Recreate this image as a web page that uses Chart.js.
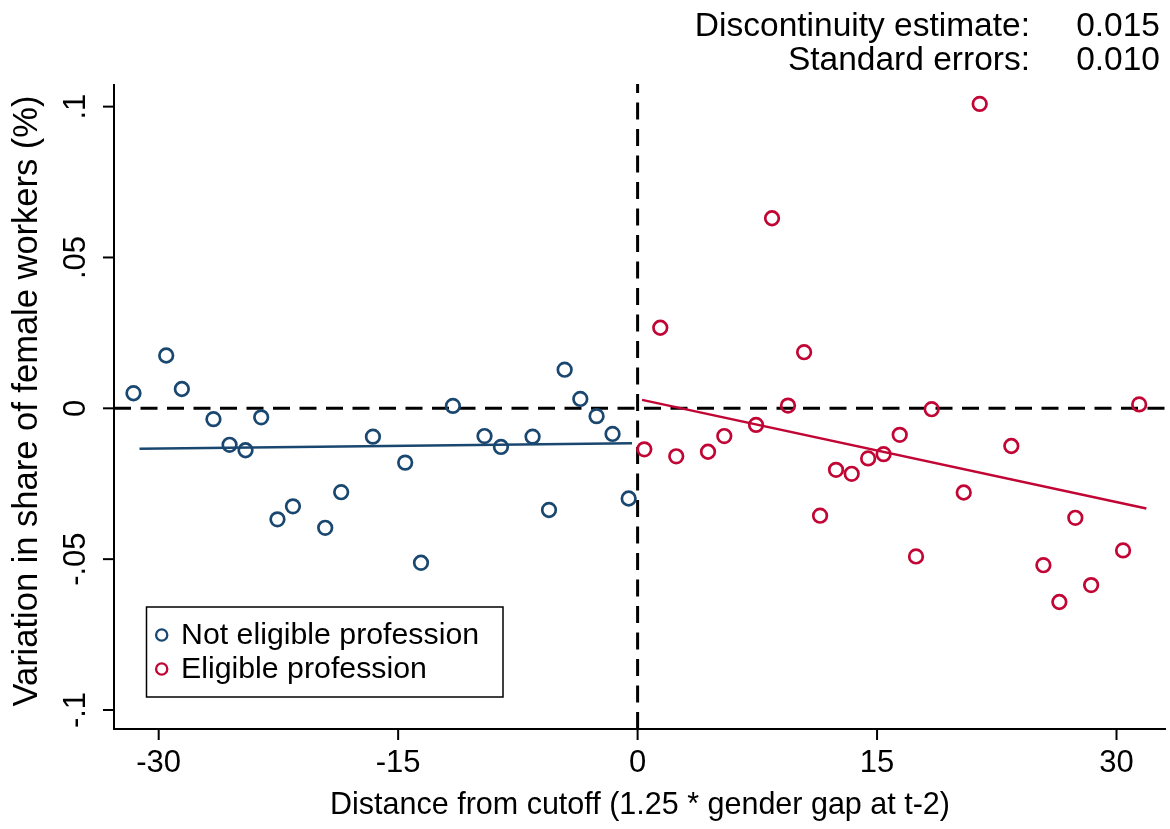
<!DOCTYPE html>
<html>
<head>
<meta charset="utf-8">
<script src="https://cdn.jsdelivr.net/npm/chart.js@4.4.1/dist/chart.umd.min.js"></script>
<style>
  html, body { margin: 0; padding: 0; background: #fff; }
  #wrap { width: 1170px; height: 829px; }
</style>
</head>
<body>
<div id="wrap"><canvas id="chart" width="1170" height="829"></canvas></div>
<script>
"use strict";

// bins left of the cutoff (not eligible)
const notEligibleX = [-31.58, -29.53, -28.55, -26.57, -25.56, -24.56, -23.58, -22.56, -21.59, -19.57, -18.57, -16.58,
  -14.56, -13.57, -11.57, -9.59, -8.56, -6.58, -5.55, -4.57, -3.59, -2.57, -1.57, -0.56];
const notEligibleY = [0.0050, 0.0175, 0.0064, -0.0036, -0.0121, -0.0139, -0.0030, -0.0368, -0.0325, -0.0396, -0.0278, -0.0094,
  -0.0180, -0.0512, 0.0008, -0.0092, -0.0128, -0.0094, -0.0337, 0.0128, 0.0031, -0.0026, -0.0085, -0.0299];

// bins right of the cutoff (eligible)
const eligibleX = [0.42, 1.42, 2.42, 4.41, 5.43, 7.42, 8.42, 9.42, 10.43, 11.43, 12.43, 13.41, 14.44,
  15.41, 16.42, 17.44, 18.42, 20.43, 21.43, 23.41, 25.42, 26.42, 27.42, 28.41, 30.41, 31.42];
const eligibleY = [-0.0136, 0.0267, -0.0159, -0.0144, -0.0092, -0.0055, 0.0630, 0.0009, 0.0186, -0.0356, -0.0204, -0.0217, -0.0166,
  -0.0152, -0.0088, -0.0491, -0.0003, -0.0279, 0.1009, -0.0125, -0.0520, -0.0642, -0.0363, -0.0586, -0.0471, 0.0013];

// linear fits on each side
const fitNotX = [-31.2, -0.35];
const fitNotY = [-0.0134, -0.0116];
const fitEligX = [0.28, 31.87];
const fitEligY = [0.0028, -0.0332];

const xRange = [-32.8, 33.1];
const yRange = [-0.1063, 0.1075];
const xTicks = [-30, -15, 0, 15, 30];
const yTicks = [-0.1, -0.05, 0, 0.05, 0.1];
const yTickLabels = ["-.1", "-.05", "0", ".05", ".1"];

const legendLabels = ["Not eligible profession", "Eligible profession"];
const statLabels = ["Discontinuity estimate:", "Standard errors:"];
const statValues = ["0.015", "0.010"];
const xTitle = "Distance from cutoff (1.25 * gender gap at t-2)";
const yTitle = "Variation in share of female workers (%)";

const navy = "#1a476f";
const cranberry = "#c10534";
const font = "'Liberation Sans', Arial, sans-serif";

const zip = (xs, ys) => xs.map((x, i) => ({ x, y: ys[i] }));

const scatterSet = (label, xs, ys, color) => ({
  type: "scatter",
  label,
  data: zip(xs, ys),
  pointStyle: "circle",
  pointRadius: 6.8,
  pointBorderWidth: 2.7,
  pointBorderColor: color,
  pointBackgroundColor: "rgba(0,0,0,0)",
  order: 2,
});

const lineSet = (xs, ys, color, extra) => Object.assign({
  type: "line",
  data: zip(xs, ys),
  borderColor: color,
  borderWidth: 2.5,
  pointRadius: 0,
  fill: false,
  order: 1,
}, extra || {});

const decor = {
  id: "decor",
  afterDraw(chart) {
    const { ctx, chartArea: a, scales } = chart;
    const sx = scales.x;
    const sy = scales.y;
    ctx.save();
    ctx.strokeStyle = "#000";
    ctx.fillStyle = "#000";
    ctx.lineWidth = 2;

    // axes
    ctx.beginPath();
    ctx.moveTo(a.left, a.top);
    ctx.lineTo(a.left, a.bottom);
    ctx.lineTo(a.right, a.bottom);
    ctx.stroke();

    // x ticks
    ctx.font = `31px ${font}`;
    ctx.textAlign = "center";
    ctx.textBaseline = "middle";
    xTicks.forEach((v) => {
      const px = sx.getPixelForValue(v);
      ctx.beginPath();
      ctx.moveTo(px, a.bottom);
      ctx.lineTo(px, a.bottom + 11);
      ctx.stroke();
      ctx.fillText(String(v), px, a.bottom + 34);
    });

    // y ticks, rotated labels
    yTicks.forEach((v, i) => {
      const py = sy.getPixelForValue(v);
      ctx.beginPath();
      ctx.moveTo(a.left - 11, py);
      ctx.lineTo(a.left, py);
      ctx.stroke();
      ctx.save();
      ctx.translate(a.left - 38, py);
      ctx.rotate(-Math.PI / 2);
      ctx.fillText(yTickLabels[i], 0, 0);
      ctx.restore();
    });

    // axis titles
    ctx.font = `30.5px ${font}`;
    ctx.fillText(xTitle, 640, 806);
    ctx.save();
    ctx.translate(27, 401);
    ctx.rotate(-Math.PI / 2);
    ctx.font = `34.5px ${font}`;
    ctx.fillText(yTitle, 0, 0);
    ctx.restore();

    // discontinuity stats
    ctx.font = `33.5px ${font}`;
    ctx.textBaseline = "alphabetic";
    ctx.textAlign = "right";
    statLabels.forEach((t, i) => {
      const by = 36 + i * 33.5;
      ctx.fillText(t, 1030, by);
      ctx.fillText(statValues[i], 1160, by);
    });

    // legend
    ctx.lineWidth = 1.5;
    ctx.strokeRect(146.5, 607, 356.5, 90);
    ctx.font = `30.3px ${font}`;
    ctx.textAlign = "left";
    ctx.textBaseline = "middle";
    [navy, cranberry].forEach((c, i) => {
      const cy = 635 + i * 34;
      ctx.beginPath();
      ctx.strokeStyle = c;
      ctx.lineWidth = 2.3;
      ctx.arc(161.7, cy, 5.6, 0, Math.PI * 2);
      ctx.stroke();
      ctx.fillText(legendLabels[i], 181, cy + 1);
    });
    ctx.restore();
  },
};

new Chart(document.getElementById("chart"), {
  data: {
    datasets: [
      lineSet(xRange, [0, 0], "#000", { borderWidth: 3, borderDash: [17, 9.5], order: 5 }),
      lineSet([0, 0], yRange, "#000", { borderWidth: 3, borderDash: [17, 9.5], order: 5 }),
      scatterSet(legendLabels[0], notEligibleX, notEligibleY, navy),
      scatterSet(legendLabels[1], eligibleX, eligibleY, cranberry),
      lineSet(fitNotX, fitNotY, navy),
      lineSet(fitEligX, fitEligY, cranberry),
    ],
  },
  options: {
    responsive: false,
    animation: false,
    devicePixelRatio: 1,
    layout: { autoPadding: false, padding: { left: 114, top: 84, right: 4, bottom: 100 } },
    plugins: { legend: { display: false }, tooltip: { enabled: false } },
    scales: {
      x: { type: "linear", display: false, min: xRange[0], max: xRange[1] },
      y: { type: "linear", display: false, min: yRange[0], max: yRange[1] },
    },
  },
  plugins: [decor],
});
</script>
</body>
</html>
